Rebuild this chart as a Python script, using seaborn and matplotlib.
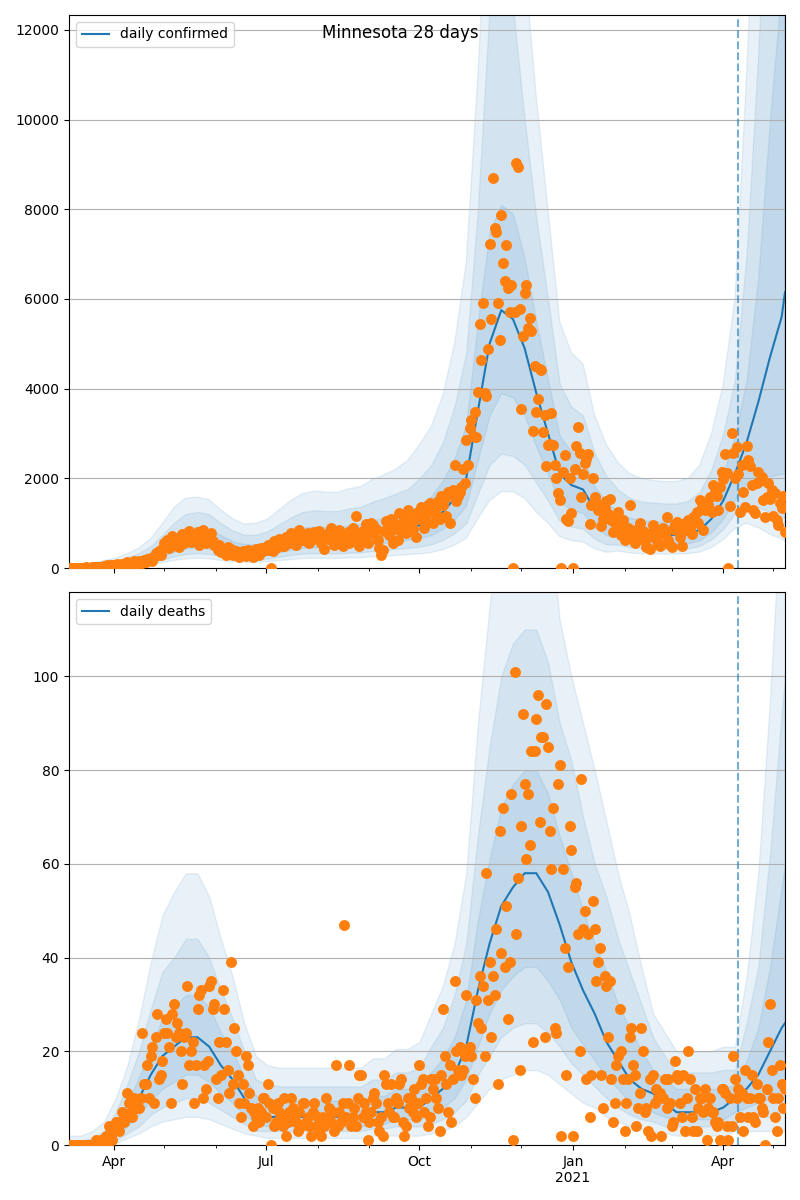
import pandas as pd
import matplotlib
matplotlib.use('Agg')
import matplotlib.pyplot as plt
import matplotlib.dates as mdates
from matplotlib.ticker import FuncFormatter
import seaborn as sns

# daily observed values, 2020-03-05 .. 2021-05-08
confirmed = [
    1,0,1,1,2,3,1,5,4,7,14,6,6,10,22,12,27,20,32,25,27,45,40,58,52,60,64,  # Mar
    70,45,95,50,75,90,60,100,130,75,120,90,150,110,95,160,140,120,180,130,200,190,220,150,250,330,280,380,300,420,  # Apr
    550,480,630,440,600,720,650,580,500,460,680,750,560,700,780,820,570,600,690,760,800,520,650,840,790,560,700,650,780,600,520,  # May
    480,400,520,350,430,380,300,460,330,420,280,360,390,310,250,340,380,300,270,410,350,320,240,380,420,360,300,450,390,430,  # Jun
    460,520,410,0,380,600,450,530,640,560,500,480,700,620,560,780,650,590,520,700,850,620,680,740,600,780,560,720,650,800,700,  # Jul
    720,820,560,640,430,700,780,650,900,580,520,760,690,850,620,500,680,720,810,560,630,900,750,1150,600,480,700,820,640,980,560,  # Aug
    800,1000,950,760,880,620,450,280,400,820,1050,900,740,1100,560,1000,880,620,1230,950,800,1100,780,1300,920,1000,860,1150,700,1250,  # Sep
    1100,1350,1200,900,1050,1400,1450,1250,1000,1300,1200,1500,1100,1600,1400,1550,1150,1700,1000,1650,1750,2300,1500,1600,1700,1800,2200,1900,2860,2300,3120,  # Oct
    3300,2950,3480,2920,3930,5440,4640,5910,3900,3840,4890,7230,5550,8700,7580,7500,5910,5090,7870,6800,6400,7200,6250,5700,6300,0,5710,9030,8950,5780,  # Nov
    3550,5170,6130,6300,5350,5580,5290,3060,4500,3480,3770,4440,4410,3040,3410,2280,2740,2760,3460,2750,2300,2010,1680,1520,0,2150,2520,1090,1050,2000,1230,  # Dec
    0,2200,2720,3150,2560,1580,2100,2350,2430,2540,980,1400,2000,1580,1450,1300,1400,940,1100,1340,1500,1210,1540,1070,800,1000,1150,1250,880,730,1060,  # Jan
    620,760,900,1400,850,700,560,640,880,1000,760,820,600,470,690,420,780,950,870,640,560,500,820,900,760,1140,620,510,  # Feb
    460,880,980,1020,830,700,480,820,1000,950,1070,880,760,1140,1060,1250,1000,1520,1360,850,1300,1480,1400,1580,1260,1850,1700,1600,1300,1800,2150,  # Mar
    1990,2540,2120,0,1380,3010,2560,2000,2700,2100,1250,2300,1700,1360,2720,2410,2280,1850,1300,1230,1900,2140,1940,2040,1520,1140,1580,1900,1540,1740,  # Apr
    1150,1680,1070,960,1450,1330,1600,800,  # May
]

deaths = [
    0,0,0,0,0,0,0,0,0,0,0,0,0,0,0,0,1,0,0,1,0,1,2,0,4,2,1,
    4,5,5,3,5,7,5,6,11,9,7,6,10,8,9,8,10,24,13,13,17,10,19,21,9,23,28,14,15,18,
    24,27,24,21,9,28,30,23,26,24,20,13,23,24,34,17,20,22,9,17,29,32,33,10,17,12,18,34,35,29,30,
    14,10,22,15,33,29,22,16,11,39,13,25,20,15,9,6,13,9,19,17,11,8,4,7,6,8,5,7,10,10,
    6,13,9,0,8,4,5,9,7,6,4,10,2,5,7,10,8,6,5,3,7,4,9,9,5,6,4,2,7,9,4,
    6,3,2,6,4,10,6,8,5,7,3,17,4,7,5,9,47,6,9,17,4,6,8,4,10,15,15,6,9,7,1,
    5,7,10,11,9,5,3,6,2,15,13,9,7,13,6,6,10,9,13,14,5,2,4,10,8,10,7,12,6,9,
    17,13,14,7,10,4,6,14,12,14,10,8,3,15,29,19,13,7,17,5,14,35,20,16,21,15,16,19,32,20,21,
    19,14,10,31,26,36,25,34,19,58,31,39,23,36,32,46,13,67,41,72,38,51,27,39,75,1,101,45,57,16,
    68,92,77,61,75,64,84,22,84,91,96,69,87,87,23,94,85,67,59,72,25,24,77,81,2,59,42,15,38,68,63,
    2,55,56,45,20,78,46,50,14,45,6,15,52,46,35,39,42,15,8,36,34,23,35,14,5,9,17,19,29,20,14,
    3,9,14,23,25,17,15,4,8,11,25,20,7,8,3,14,2,15,9,12,10,11,2,10,14,8,14,9,
    4,5,18,15,14,9,6,15,3,10,20,14,6,3,12,3,8,10,10,7,12,1,8,10,7,7,5,4,5,1,12,
    12,11,4,1,10,4,19,14,10,12,6,11,3,16,10,6,10,15,6,5,13,10,10,8,7,0,12,22,30,16,
    10,6,3,10,17,13,8,12,
]

# weekly model median and quantile bands (last point 2021-05-08)
conf_median = [5,15,30,55,80,120,170,250,380,520, 620,660,620,520,430,380,380,420,500,580,
               640,660,650,650,680,700,760,800,850,900, 950,1050,1250,1550,2000,3500,5000,5750,5550,4900,
               3900,3000,2100,1850,1750,1300,1050,900,800,760, 750,740,740,760,850,1100,1500,2100,2800,3700,
               4700,5600,6150]
conf_lo3 = [0,3,8,17,26,40,56,82,125,170, 205,220,205,170,140,125,125,140,165,190,
            210,220,215,215,225,230,250,265,280,300, 315,345,410,510,660,1100,1500,1700,1700,1550,
            1250,1000,700,610,580,430,350,380,335,320, 315,310,310,320,355,460,630,880,1000,900,
            750,650,600]
conf_lo2 = [1,6,13,26,40,60,85,125,190,260, 310,330,310,260,215,190,190,210,250,290,
            320,330,325,325,340,350,380,400,425,450, 475,525,625,775,1000,1650,2300,2550,2500,2300,
            1900,1500,1050,925,875,650,525,520,465,440, 435,430,430,440,495,640,870,1220,1400,1350,
            1250,1150,1100]
conf_lo1 = [2,9,19,37,56,84,120,175,265,365, 435,460,435,365,300,265,265,295,350,405,
            450,460,455,455,475,490,530,560,595,630, 665,735,875,1085,1400,2400,3400,3900,3800,3400,
            2700,2100,1470,1300,1225,910,735,660,585,555, 550,540,540,555,620,800,1100,1530,1900,2000,
            2050,2100,2100]
conf_hi1 = [10,25,48,85,115,170,240,355,535,730, 870,925,870,730,600,535,535,590,700,810,
            900,925,910,910,950,980,1065,1120,1190,1260, 1400,1600,1950,2450,3200,5500,7500,8100,7900,6900,
            5500,4200,2950,2600,2450,1820,1470,1260,1120,1065, 1050,1040,1040,1065,1200,1550,2100,2950,4200,6500,
            10000,13000,14000]
conf_hi2 = [18,40,70,120,165,240,335,490,740,1010, 1210,1250,1200,1000,840,740,740,820,975,1130,
            1250,1290,1270,1270,1330,1370,1480,1560,1660,1760, 2000,2300,2800,3600,4800,8000,12500,13500,12500,10000,
            7800,6000,4100,3600,3400,2550,2050,1750,1560,1480, 1460,1440,1440,1500,1700,2200,3000,4200,7000,11500,
            17000,23000,25000]
conf_hi3 = [30,60,100,170,220,320,450,660,990,1350, 1560,1580,1520,1300,1100,980,1000,1090,1300,1510,
            1660,1720,1690,1690,1770,1820,1980,2080,2210,2400, 2750,3150,3850,5000,6800,11000,16000,17500,16500,13500,
            10500,8000,5500,4800,4550,3400,2750,2350,2100,2000, 1950,1930,1930,2000,2300,3000,4100,6000,11000,17000,
            25000,33000,36000]

death_median = [0,0,0,1,3,6,10,15,19,21, 23,23,21,17,14,10,7,6,6,6,
                6,6,6,6,6,6,7,7,8,8, 8,10,12,15,21,33,43,51,55,58,
                58,54,47,39,33,28,22,18,14,12, 11,9,7,7,7,7,8,10,12,15,
                20,25,26]
death_lo3 = [0,0,0,0,0.5,1.5,2.5,4,5,5.5, 6,6,5.5,4.5,3.5,2.5,2,1.5,1.5,1.5,
             1.5,1.5,1.5,1.5,1.5,1.5,2,2,2,2, 2,2.5,3,4,6,9,12,14,15,16,
             16,15,13,11,9,8,6,5,4,3.5, 3,2.5,2,2,2,2,2,3,3,3,
             3,3,3]
death_lo2 = [0,0,0,0,1,2.5,4,6.5,8,9, 10,10,9,7.5,6,4.5,3,3,3,3,
             3,3,3,3,3,3,3.5,3.5,4,4, 4,4.5,5.5,7,9.5,15,19,23,25,26,
             26,24,21,17.5,15,12.5,10,8,6.5,5.5, 5,4,4,4,4,4,4,5,5,6,
             6,7,7]
death_lo1 = [0,0,0,0.5,2,4,6.5,9.5,12,13.5, 15,15,13.5,11,9,6.5,4.5,4,4,4,
             4,4,4,4,4,4,4.5,4.5,5.5,5.5, 5.5,6.5,8,10,14,21,28,33,36,38,
             38,35,31,25,21.5,18,14.5,12,9,8, 7,6,5.5,5.5,5.5,5.5,5.5,7,8,9,
             10,12,12]
death_hi1 = [0.5,0.5,1,2,5,9,14.5,21,27,29.5, 32,32,29.5,24,20,14.5,10.5,9.5,9.5,9.5,
             9.5,9.5,9.5,9.5,9.5,9.5,10.5,10.5,12,12, 12.5,15.5,18.5,23,31,48,61,72,77,80,
             80,75,66,58,50,43,37,30,25,20, 16,14,12,12,12,12,12,13,18,25,
             38,55,60]
death_hi2 = [1,1,1.5,3,7,13,20,29,37,40, 44,44,40,33,27,20,14,13,12.5,12.5,
             12.5,12.5,12.5,12.5,12.5,12.5,14,14,15.5,15.5, 16.5,21,25,32,43,66,85,100,107,110,
             110,103,90,82,70,60,53,44,37,30, 23,19,15.5,15.5,15.5,15.5,16,16,26,38,
             62,92,100]
death_hi3 = [2,2,3,5,10,17,27,39,49,54, 58,58,53,44,36,26,19,17,16.5,16.5,
             16.5,16.5,16.5,16.5,16.5,16.5,18.5,18.5,20.5,20.5, 22,28,34,43,58,90,115,135,145,148,
             148,138,112,100,90,80,69,58,49,38, 28,24,20,20,20,20,21,21,36,58,
             95,140,150]

days = pd.date_range('2020-03-05', periods=len(confirmed), freq='D')
weeks = pd.date_range('2020-03-05', '2021-05-06', freq='7D').append(pd.DatetimeIndex(['2021-05-08']))
fit_end = pd.Timestamp('2021-04-10')

panels = [
    ('daily confirmed', confirmed, conf_median, [(conf_lo3, conf_hi3), (conf_lo2, conf_hi2), (conf_lo1, conf_hi1)], 12330),
    ('daily deaths', deaths, death_median, [(death_lo3, death_hi3), (death_lo2, death_hi2), (death_lo1, death_hi1)], 118),
]

f, axes = plt.subplots(2, 1, figsize=(8, 12), dpi=100, sharex=True)
plt.subplots_adjust(left=0.08625, right=0.98125, top=0.9875, bottom=0.0458, hspace=0.0434)

for ax, (name, obs, med, bands, ytop) in zip(axes, panels):
    for lo, hi in bands:
        ax.fill_between(weeks, lo, hi, color='tab:blue', alpha=0.1)
    sns.lineplot(x=weeks, y=med, color='tab:blue', linewidth=1.5, label=name, ax=ax)
    sns.scatterplot(x=days, y=obs, color='tab:orange', s=62, linewidth=0, zorder=3, ax=ax)
    ax.axvline(fit_end, color='tab:blue', alpha=0.6, linestyle='--', linewidth=1.5)
    ax.set_ylim(0, ytop)
    ax.set_xlim(days[0], days[-1])
    ax.yaxis.grid(True)
    ax.set_xlabel('')
    ax.set_ylabel('')
    ax.legend(loc='upper left')

def month_label(x, pos):
    d = mdates.num2date(x)
    s = d.strftime('%b')
    if d.month == 1:
        s += '\n' + str(d.year)
    return s

axes[1].xaxis.set_major_locator(mdates.MonthLocator(bymonth=[1, 4, 7, 10]))
axes[1].xaxis.set_minor_locator(mdates.MonthLocator())
axes[1].xaxis.set_major_formatter(FuncFormatter(month_label))
axes[1].xaxis.set_minor_formatter(FuncFormatter(lambda x, pos: ''))

f.suptitle('Minnesota 28 days')
f.savefig('out.png', dpi=100)
